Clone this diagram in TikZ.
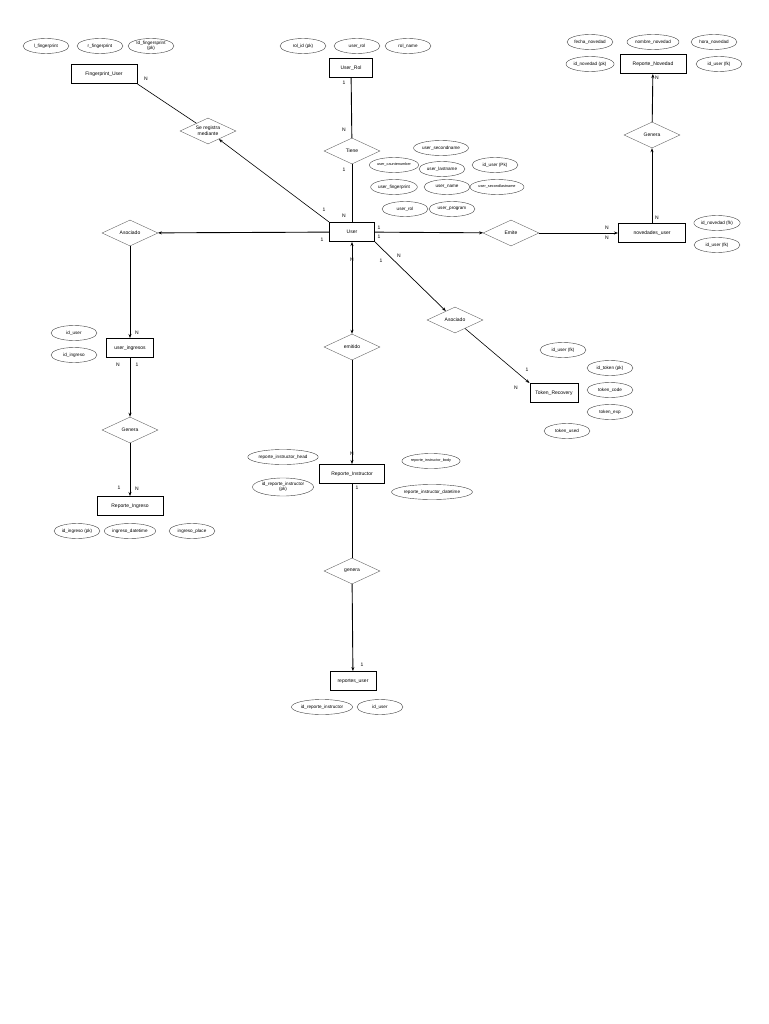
\documentclass[tikz,border=0pt]{standalone}
\usepackage{fontspec}
\setmainfont{Liberation Sans}
\usetikzlibrary{shapes.geometric,arrows.meta}

\tikzstyle{entity}=[draw,line width=1pt,rectangle,minimum height=19pt,inner sep=2pt,font=\fontsize{5}{6}\selectfont]
\tikzstyle{relation}=[draw=black!60,thin,diamond,aspect=2.15,minimum width=56pt,minimum height=26pt,inner sep=0pt,font=\fontsize{5}{6}\selectfont,align=center]
\tikzstyle{attr}=[draw=black!75,thin,ellipse,minimum width=46pt,minimum height=15pt,inner sep=0.5pt,font=\fontsize{4.6}{5}\selectfont,align=center]
\tikzstyle{link}=[draw,line width=0.9pt,-{Stealth[length=4pt,width=3pt]}]
\tikzstyle{plain}=[draw,line width=0.9pt,-]
\tikzstyle{thinlink}=[draw,line width=0.6pt,-{Stealth[length=4pt,width=3pt]}]
\tikzstyle{card}=[font=\fontsize{5}{6}\selectfont,inner sep=0pt]

\begin{document}
\begin{tikzpicture}[x=1pt,y=-1pt]
    \useasboundingbox (0,0) rectangle (768,1024);
    % entities
    \foreach \pos/\name/\txt/\w in {{(104,74)/fpu/Fingerprint\_User/66}, {(351,68)/urol/User\_Rol/43},
        {(653,64)/rnov/Reporte\_Novedad/66}, {(352,232)/user/User/45}, {(652,233)/nuser/novedades\_user/67},
        {(130,348)/uing/user\_ingresos/47}, {(554,393)/tok/Token\_Recovery/48},
        {(352,474)/rins/Reporte\_Instructor/65}, {(130,506)/ring/Reporte\_Ingreso/66}, {(353,681)/ruser/reportes\_user/46}}
        \node[entity,minimum width=\w pt] (\name) at \pos {\txt};
    % relations
    \node[relation] (sereg) at (208,131) {Se registra\\mediante};
    \node[relation] (tiene) at (352,151) {Tiene};
    \node[relation] (genn) at (652,135) {Genera};
    \node[relation] (asoc) at (130,233) {Asociado};
    \node[relation] (emite) at (511,233) {Emite};
    \node[relation] (asoct) at (455,320) {Asociado};
    \node[relation] (emit) at (352,347) {emitido};
    \node[relation] (geni) at (130,430) {Genera};
    \node[relation] (genr) at (352,571) {genera};
    % attributes
    \foreach \pos/\name/\txt in {{(46,46)/a1/l\_fingerprint}, {(100,46)/a2/r\_fingerprint}, {(151,46)/a3/Id\_fingersprint\\(pk)},
        {(303,46)/a4/rol\_id (pk)}, {(357,46)/a5/user\_rol}, {(408,46)/a6/rol\_name},
        {(590,42)/a7/fecha\_novedad}, {(653,42)/a8/nombre\_novedad}, {(714,42)/a9/hora\_novedad},
        {(590,64)/a10/id\_novedad (pk)}, {(719,64)/a11/id\_user (fk)},
        {(441,148)/a12/user\_secondname}, {(394,165)/a13/{\fontsize{3.8}{4}\selectfont user\_cauntenumber}},
        {(442,169)/a14/user\_lastname}, {(495,165)/a15/id\_user (Pk)}, {(394,187)/a16/user\_fingerprint},
        {(447,187)/a17/user\_name}, {(497,187)/a18/{\fontsize{3.8}{4}\selectfont user\_secondlastname}},
        {(405,209)/a19/user\_rol}, {(452,209)/a20/user\_program},
        {(717,223)/a21/id\_novedad (fk)}, {(717,245)/a22/id\_user (fk)},
        {(74,333)/a23/id\_user}, {(74,355)/a24/id\_ingreso},
        {(563,350)/a25/id\_user (fk)}, {(610,368)/a26/id\_token (pk)}, {(610,390)/a27/token\_code},
        {(610,412)/a28/token\_exp}, {(567,431)/a29/token\_used},
        {(431,461)/a31/{\fontsize{3.8}{4}\selectfont reporte\_instructor\_body}},
        {(77,531)/a33/id\_ingreso (pk)}, {(130,531)/a34/ingreso\_datetime}, {(192,531)/a35/ingreso\_place},
        {(322,707)/a36/id\_reporte\_instructor}, {(380,707)/a37/id\_user}}
        \node[attr] (\name) at \pos {\txt};
    \node[attr,minimum width=60pt] (a30) at (283,457) {reporte\_instructor\_head};
    \node[attr,minimum height=18pt] (a38) at (283,487) {id\_reporte\_instructor\\(pk)};
    \node[attr,minimum width=62pt] (a32) at (432,492) {reporte\_instructor\_datetime};
    % connectors
    \path[draw,line width=0.6pt] (fpu.south east) -- (sereg);
    \path[thinlink] (user.north west) -- (sereg);
    \path[plain] (urol) -- (tiene);
    \path[plain] (tiene) -- (user);
    \path[link] (genn) -- (rnov);
    \path[link] (nuser) -- (genn);
    \path[link] (user) -- (emite);
    \path[link] (emite) -- (nuser);
    \path[link] (user) -- (asoc);
    \path[link] (asoc) -- (uing);
    \path[link] (uing) -- (geni);
    \path[link] (geni) -- (ring);
    \path[link,line width=0.7pt] (user.south east) -- (asoct);
    \path[thinlink] (asoct) -- (tok.north west);
    \path[link,{Stealth[length=4pt,width=3pt]}-{Stealth[length=4pt,width=3pt]}] (user) -- (emit);
    \path[link] (emit) -- (rins);
    \path[plain] (rins) -- (genr);
    \path[link] (genr) -- (ruser);
    % cardinalities
    \foreach \pos/\txt in {{(146,79)/N}, {(324,210)/1}, {(344,83)/1}, {(344,130)/N}, {(344,170)/1}, {(344,216)/N},
        {(657,78)/N}, {(657,218)/N}, {(379,228)/1}, {(379,237)/1}, {(607,228)/N}, {(607,238)/N},
        {(322,240)/1}, {(137,333)/N}, {(118,365)/N}, {(137,365)/1}, {(119,488)/1}, {(137,489)/N},
        {(381,261)/1}, {(399,256)/N}, {(527,370)/1}, {(516,388)/N}, {(352,260)/N}, {(352,454)/N},
        {(357,488)/1}, {(362,665)/1}}
        \node[card] at \pos {\txt};
\end{tikzpicture}
\end{document}
